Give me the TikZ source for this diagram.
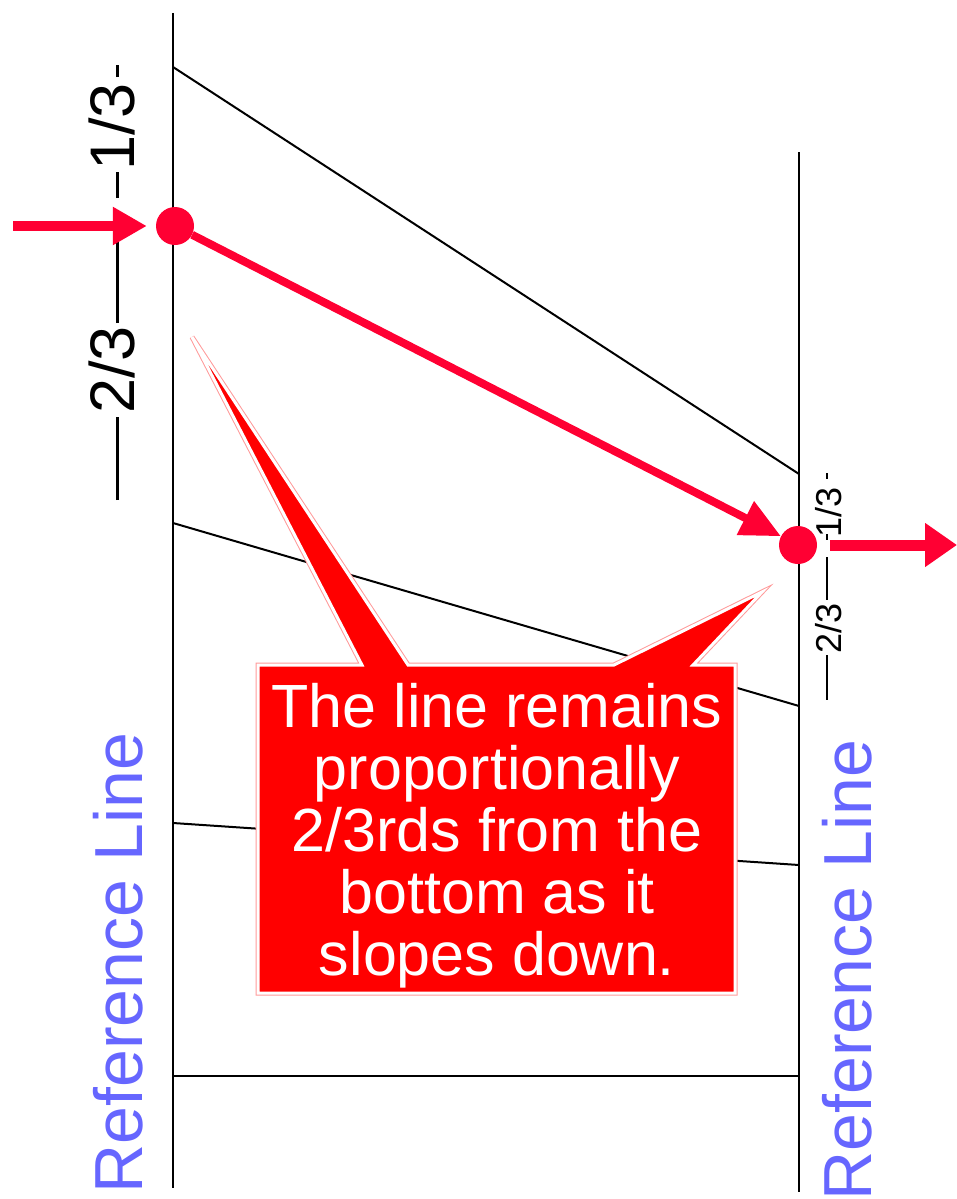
\documentclass[tikz,border=0pt]{standalone}
\usepackage{fontspec}
\setmainfont{Liberation Sans}
\usetikzlibrary{arrows.meta}
\definecolor{crim}{HTML}{FF0033}
\definecolor{refblue}{HTML}{6666FF}
\definecolor{callred}{HTML}{FF0000}
\definecolor{pinkedge}{HTML}{FF9999}
\begin{document}
\begin{tikzpicture}[x=1pt,y=-1pt,
  refline/.style={line width=2.5pt, black},
  guide/.style={line width=2pt, black},
  dashmark/.style={line width=3pt, black},
  smalldash/.style={line width=2pt, black},
  dot/.style={circle, fill=crim, minimum size=38pt, inner sep=0pt},
  bigarrow/.style={crim, line width=10pt, -{Triangle[length=34pt,width=36pt]}},
  reflab/.style={text=refblue, font=\fontsize{68}{68}\selectfont, rotate=90, inner sep=0pt},
  biglab/.style={text=black, font=\fontsize{63}{63}\selectfont, rotate=90, inner sep=0pt},
  smalllab/.style={text=black, font=\fontsize{36}{36}\selectfont, rotate=90, inner sep=0pt},
  notetext/.style={text=white, align=center, font=\fontsize{61}{62}\selectfont, inner sep=0pt}]
\useasboundingbox (0,0) rectangle (957,1199);
% reference lines
\coordinate (LT) at (173,13); \coordinate (LB) at (173,1188);
\coordinate (RT) at (799,152); \coordinate (RB) at (799,1192);
\draw[refline] (LT) -- (LB);
\draw[refline] (RT) -- (RB);
% guide lines
\coordinate (a1) at (173,67);   \coordinate (b1) at (799,474);
\coordinate (a3) at (173,523);  \coordinate (b3) at (799,706);
\coordinate (a4) at (173,823);  \coordinate (b4) at (799,865);
\coordinate (a5) at (173,1076); \coordinate (b5) at (799,1076);
\draw[guide] (a1) -- (b1);
\draw[guide] (a3) -- (b3);
\draw[guide] (a4) -- (b4);
\draw[guide] (a5) -- (b5);
% labels
\node[reflab] (refL) at (118,963) {Reference Line};
\node[reflab] (refR) at (847,970) {Reference Line};
\node[biglab] (l23) at (112,370) {2/3};
\node[biglab] (l13) at (112,127) {1/3};
\draw[dashmark] (117,500) -- (117,417);
\draw[dashmark] (117,323) -- (117,233);
\draw[dashmark] (117,198) -- (117,172);
\draw[dashmark] (117,77) -- (117,65);
\node[smalllab] (r13) at (829,512) {1/3};
\node[smalllab] (r23) at (829,628) {2/3};
\draw[smalldash] (827,473) -- (827,479);
\draw[smalldash] (827,534) -- (827,540);
\draw[smalldash] (827,557) -- (827,600);
\draw[smalldash] (827,655) -- (827,700);
% dots and arrows
\node[dot] (L) at (175,226) {};
\node[dot] (R) at (798,545) {};
\coordinate (inL) at (13,226);
\coordinate (outS) at (830,545);
\coordinate (outE) at (957,545);
\draw[bigarrow, shorten >=9pt] (inL) -- (L);
\draw[bigarrow, line width=8pt, -{Triangle[length=40pt,width=36pt]}] (L) -- (R);
\draw[bigarrow, line width=11pt, -{Triangle[length=32pt,width=42pt]}] (outS) -- (outE);
% callout
\draw[pinkedge, line width=5pt, line join=miter]
  (258,665) -- (362,665) -- (192,337) -- (408,665) -- (614,665) -- (762,592) -- (693,665)
  -- (735,665) -- (735,993) -- (258,993) -- cycle;
\draw[white, line width=3pt, fill=callred, line join=miter]
  (258,665) -- (362,665) -- (192,337) -- (408,665) -- (614,665) -- (762,592) -- (693,665)
  -- (735,665) -- (735,993) -- (258,993) -- cycle;
\node[notetext] (note) at (497,836) {The line remains\\proportionally\\2/3rds from the\\bottom as it\\slopes down.};
\end{tikzpicture}
\end{document}
